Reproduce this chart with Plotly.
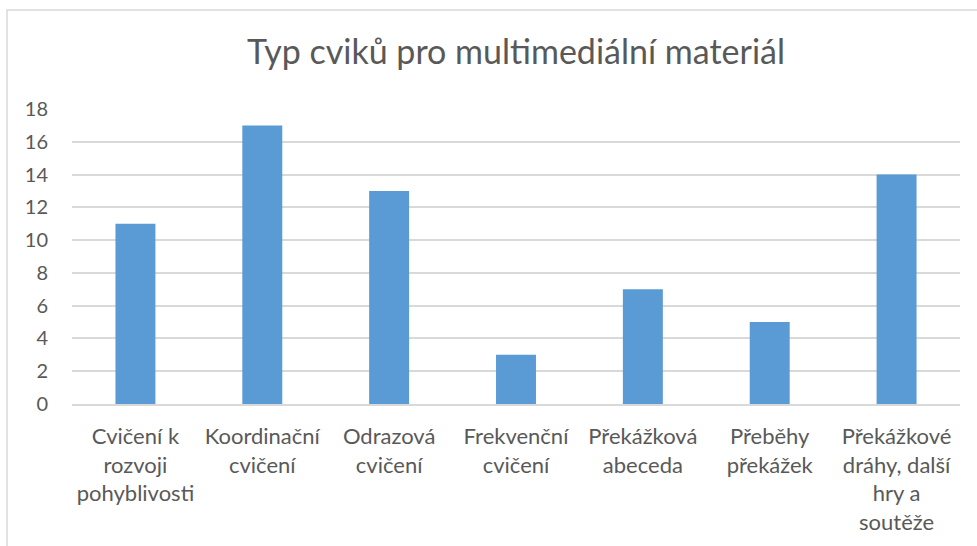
import plotly.graph_objects as go

categories = [
    "Cvičení k<br>rozvoji<br>pohyblivosti",
    "Koordinační<br>cvičení",
    "Odrazová<br>cvičení",
    "Frekvenční<br>cvičení",
    "Překážková<br>abeceda",
    "Přeběhy<br>překážek",
    "Překážkové<br>dráhy, další<br>hry a<br>soutěže",
]
values = [11, 17, 13, 3, 7, 5, 14]
title_text = "Typ cviků pro multimediální materiál"

W, H = 977, 546
L, R, T, B = 72, 17, 109, 142

fig = go.Figure(go.Bar(x=categories, y=values, marker_color="#5B9BD5",
                       marker_line_width=0))

pw = W - L - R
ph = H - T - B
fig.add_shape(type="rect", xref="paper", yref="paper",
              x0=(7 - L) / pw, x1=(W + 5 - L) / pw,
              y0=-(H + 5 - T - ph) / ph, y1=(H - 10 - B) / ph,
              line=dict(color="#D9D9D9", width=1.5), fillcolor="rgba(0,0,0,0)",
              layer="below")

fig.update_layout(
    width=W, height=H,
    margin=dict(l=L, r=R, t=T, b=B, autoexpand=False),
    paper_bgcolor="white", plot_bgcolor="white",
    font=dict(family="Lato", color="#595959", size=19),
    title=dict(text=title_text, x=0.5, xref="paper", xanchor="center",
               y=1 - 52 / H, yanchor="middle",
               font=dict(size=34, color="#595959", family="Lato")),
    bargap=0.685,
    showlegend=False,
)
fig.update_yaxes(range=[0, 18], dtick=2, showgrid=True, gridcolor="#D9D9D9",
                 gridwidth=1.5, zeroline=False, showline=False,
                 ticklabelstandoff=23, tickfont=dict(size=20))
fig.update_xaxes(showline=True, linecolor="#D9D9D9", linewidth=1.5,
                 ticks="", ticklabelstandoff=12, tickfont=dict(size=22))

fig.write_html("out.html", config={"displayModeBar": False},
               post_script="document.body.style.margin='0';")
